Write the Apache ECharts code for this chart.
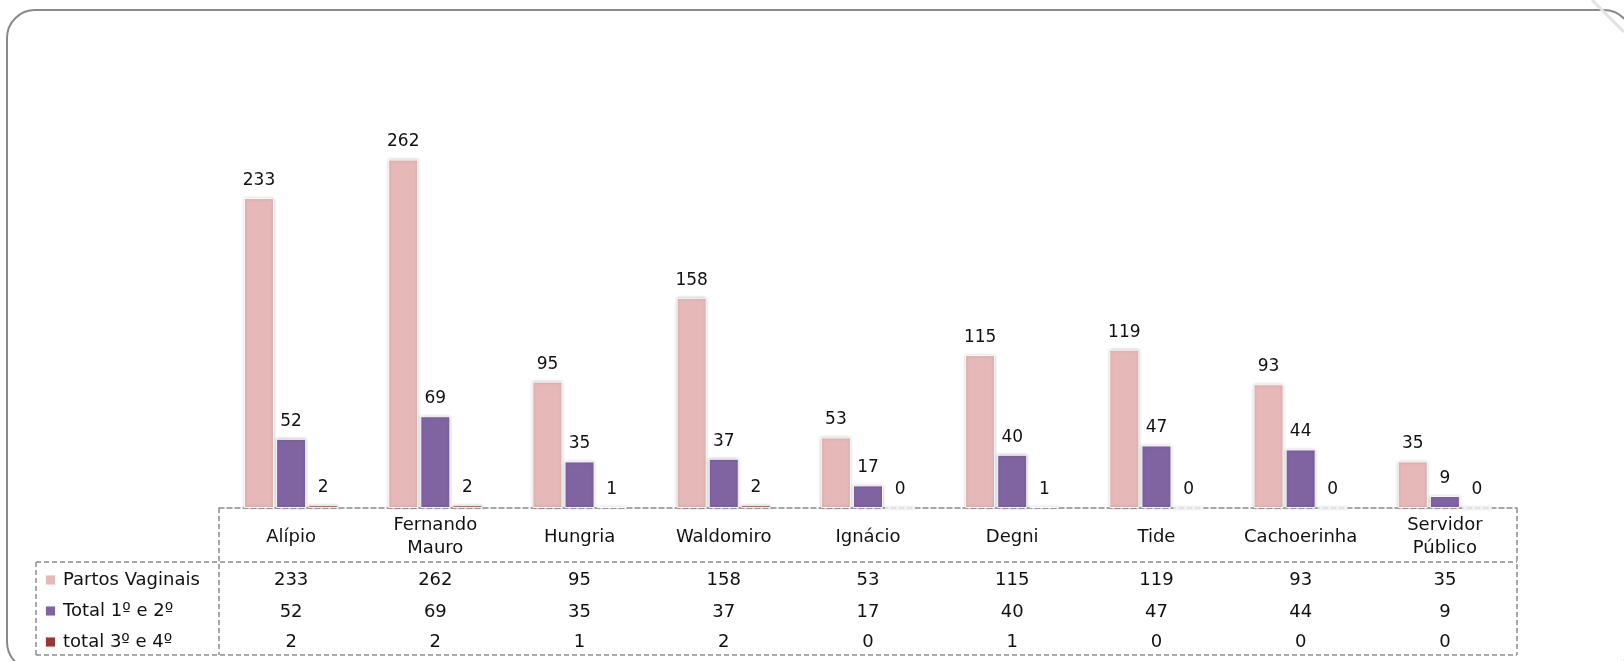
<!DOCTYPE html>
<html>
<head>
<meta charset="utf-8">
<script src="https://cdn.jsdelivr.net/npm/echarts@6/dist/echarts.min.js"></script>
<style>
html,body{margin:0;padding:0;background:#fff;}
#chart{width:1624px;height:661px;}
</style>
</head>
<body>
<div id="chart"></div>
<script>
const categories = ['Alípio', 'Fernando\nMauro', 'Hungria', 'Waldomiro', 'Ignácio', 'Degni', 'Tide', 'Cachoerinha', 'Servidor\nPúblico'];
const seriesNames = ['Partos Vaginais', 'Total 1º e 2º', 'total 3º e 4º'];
const partosVaginais = [233, 262, 95, 158, 53, 115, 119, 93, 35];
const total12 = [52, 69, 35, 37, 17, 40, 47, 44, 9];
const total34 = [2, 2, 1, 2, 0, 1, 0, 0, 0];

const seriesValues = [partosVaginais, total12, total34];
const colors = ['#E6B9B8', '#8064A2', '#953735'];

const W = 1624, H = 661;
const gridLeft = 219, gridRight = 1517, baseY = 508;
const gridTop = 109;
const headerBottom = 562, tableBottom = 655, legendLeft = 36;
const rowCenters = [580, 612, 642];
const font = '"DejaVu Sans", sans-serif';
const dashColor = '#8c8c8c';

const chart = echarts.init(document.getElementById('chart'));

const xAxes = [{
  type: 'category',
  data: categories,
  gridIndex: 0,
  position: 'bottom',
  axisLine: {show: true, lineStyle: {color: dashColor, type: [5, 3], width: 1.5}},
  axisTick: {show: false},
  axisLabel: {
    interval: 0, color: '#111', fontFamily: font, fontSize: 18,
    lineHeight: 23, verticalAlign: 'middle', margin: 29
  }
}];
seriesValues.forEach((vals, r) => {
  xAxes.push({
    type: 'category',
    data: categories,
    gridIndex: 0,
    position: 'bottom',
    axisLine: {show: false},
    axisTick: {show: false},
    axisLabel: {
      interval: 0, color: '#111', fontFamily: font, fontSize: 18,
      verticalAlign: 'middle', margin: rowCenters[r] - baseY,
      formatter: (v, i) => String(vals[i])
    }
  });
});

const dash = {stroke: dashColor, lineWidth: 1.5, lineDash: [5, 3]};
function line(x1, y1, x2, y2, style) {
  return {type: 'line', silent: true, shape: {x1, y1, x2, y2}, style: Object.assign({}, style || dash), z: 10};
}

const option = {
  animation: false,
  backgroundColor: '#fff',
  grid: {left: gridLeft, right: W - gridRight, top: gridTop, bottom: H - baseY, containLabel: false},
  xAxis: xAxes,
  yAxis: {type: 'value', min: 0, max: 300, show: false, splitLine: {show: false}},
  legend: {
    orient: 'vertical',
    left: 44,
    top: rowCenters[0] - 10,
    padding: 0,
    height: 100,
    itemWidth: 11,
    itemHeight: 11,
    itemGap: 11,
    icon: 'rect',
    data: seriesNames,
    textStyle: {fontFamily: font, fontSize: 18, color: '#111', lineHeight: 20, padding: [0, 0, 0, 2]}
  },
  series: seriesValues.map((vals, i) => ({
    name: seriesNames[i],
    type: 'bar',
    data: vals,
    barWidth: 30,
    barGap: '7%',
    itemStyle: {
      color: colors[i],
      borderColor: 'rgba(255,255,255,0.9)',
      borderWidth: 1,
      shadowColor: 'rgba(0,0,0,0.25)',
      shadowBlur: 3
    },
    label: {
      show: true, position: 'top', distance: 9,
      fontFamily: font, fontSize: 17, color: '#111'
    }
  })),
  graphic: [
    {type: 'rect', silent: true, shape: {x: 7, y: 10, width: 1625, height: 660, r: 28},
     style: {fill: 'none', stroke: '#8a8a8a', lineWidth: 2}, z: 0},
    line(1592, 0, 1624, 32, {stroke: '#e2e2e2', lineWidth: 3}),
    line(gridLeft, baseY, gridLeft, tableBottom),
    line(gridRight, baseY, gridRight, tableBottom),
    line(legendLeft, headerBottom, gridRight, headerBottom),
    line(legendLeft, tableBottom, gridRight, tableBottom),
    line(legendLeft, headerBottom, legendLeft, tableBottom)
  ]
};
chart.setOption(option);
</script>
</body>
</html>
